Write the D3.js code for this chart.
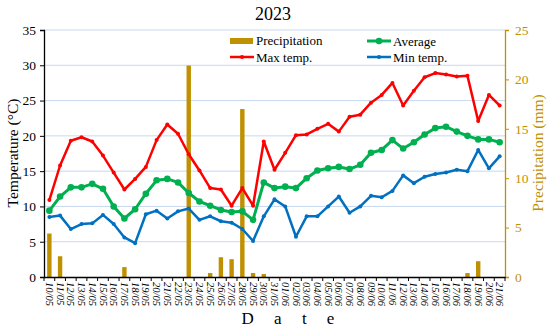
<html>
<head>
    <script src="https://d3js.org/d3.v7.min.js"></script>
    <style>
        body { margin: 0; background: #fff; }
        text { font-family: "Liberation Serif", "Times New Roman", serif; }
    </style>
</head>
<body>
    <svg id="chart" width="550" height="330"></svg>
    <script>
        const dates = ["10/05","11/05","12/05","13/05","14/05","15/05","16/05","17/05","18/05","19/05","20/05",
            "21/05","22/05","23/05","24/05","25/05","26/05","27/05","28/05","29/05","30/05","31/05",
            "01/06","02/06","03/06","04/06","05/06","06/06","07/06","08/06","09/06","10/06","11/06",
            "12/06","13/06","14/06","15/06","16/06","17/06","18/06","19/06","20/06","21/06"];
        const maxTemp = [10.9,15.8,19.3,19.8,19.2,17.2,14.8,12.4,13.9,15.6,19.4,
            21.6,20.3,17.4,15.1,12.6,12.4,10.1,12.6,10.1,19.2,15.2,
            17.6,20.1,20.2,21.0,21.7,20.6,22.7,23.0,24.7,25.8,27.5,
            24.3,26.4,28.3,28.9,28.7,28.4,28.5,22.1,25.8,24.3];
        const avgTemp = [9.4,11.4,12.7,12.7,13.2,12.5,10.0,8.3,9.6,11.8,13.7,
            13.9,13.4,11.9,10.7,10.1,9.5,9.2,9.3,8.1,13.4,12.6,
            12.8,12.6,14.0,15.1,15.4,15.6,15.3,15.9,17.6,18.0,19.4,
            18.2,19.1,20.2,21.1,21.3,20.6,20.0,19.5,19.5,19.1];
        const minTemp = [8.5,8.7,6.8,7.5,7.6,8.8,7.5,5.6,4.8,8.9,9.4,
            8.3,9.3,9.7,8.1,8.6,7.9,7.7,6.8,5.1,8.6,11.0,
            10.0,5.7,8.6,8.6,10.0,11.4,9.1,10.0,11.5,11.3,12.2,
            14.4,13.3,14.2,14.6,14.8,15.2,15.0,18.0,15.4,17.1];
        const precip = [4.4,2.1,0,0,0,0,0,1.0,0,0,0,
            0,0,21.4,0,0.4,2.0,1.8,17.0,0.4,0.3,0,
            0,0,0,0,0,0,0,0,0,0,0,
            0,0,0,0,0,0,0.4,1.6,0,0];
        const tempTicks = [0,5,10,15,20,25,30,35];
        const precipTicks = [0,5,10,15,20,25];

        const gold = "#BF9000";
        const serif = '"Liberation Serif", "Times New Roman", serif';
        const svg = d3.select("#chart");
        const plotL = 44, plotR = 505, plotT = 30, plotB = 277;

        const x = d3.scaleBand().domain(dates).range([plotL, plotR]).padding(0);
        const y = d3.scaleLinear().domain([0, 35]).range([plotB, plotT]);
        const y2 = d3.scaleLinear().domain([0, 25]).range([plotB, plotT]);
        const cx = d => x(d) + x.bandwidth() / 2;

        // grid
        svg.append("g").selectAll("line")
            .data(tempTicks.filter(t => t > 0))
            .join("line")
            .attr("x1", plotL).attr("x2", plotR)
            .attr("y1", d => y(d)).attr("y2", d => y(d))
            .attr("stroke", "#C8D8F0").attr("stroke-width", 1);

        // bars
        svg.append("g").selectAll("rect")
            .data(precip.map((v, i) => ({ d: dates[i], v })).filter(e => e.v > 0))
            .join("rect")
            .attr("x", e => cx(e.d) - 2.2)
            .attr("width", 4.4)
            .attr("y", e => y2(e.v))
            .attr("height", e => plotB - y2(e.v))
            .attr("fill", gold);

        // axes
        const leftAxis = svg.append("g")
            .attr("transform", `translate(${plotL},0)`)
            .call(d3.axisLeft(y).tickValues(tempTicks).tickSize(4).tickPadding(4));
        leftAxis.select(".domain").attr("stroke", "#000").attr("stroke-width", 1.3);
        leftAxis.selectAll("text").style("font-size", "13.5px").attr("fill", "#000")
            .style("font-family", serif);

        const rightAxis = svg.append("g")
            .attr("transform", `translate(${plotR},0)`)
            .call(d3.axisRight(y2).tickValues(precipTicks).tickSize(4).tickPadding(6));
        rightAxis.select(".domain").attr("stroke", gold).attr("stroke-width", 1.3);
        rightAxis.selectAll("line").attr("stroke", gold);
        rightAxis.selectAll("text").style("font-size", "13.5px").attr("fill", gold)
            .style("font-family", serif);

        const xAxis = svg.append("g")
            .attr("transform", `translate(0,${plotB})`)
            .call(d3.axisBottom(x).tickSize(0).tickPadding(6));
        xAxis.select(".domain").attr("stroke", "#000").attr("stroke-width", 1.3);
        xAxis.selectAll("text")
            .style("font-size", "10.5px")
            .style("font-style", "italic")
            .style("font-family", serif)
            .attr("fill", "#000")
            .attr("text-anchor", "start")
            .attr("transform", "rotate(90)")
            .attr("x", 5).attr("y", 0).attr("dy", "0.32em");
        svg.append("g").selectAll("line")
            .data(dates.concat(["end"]))
            .join("line")
            .attr("x1", (d, i) => plotL + i * x.bandwidth())
            .attr("x2", (d, i) => plotL + i * x.bandwidth())
            .attr("y1", plotB).attr("y2", plotB + 4)
            .attr("stroke", "#000");

        // lines
        const series = [
            { vals: maxTemp, color: "#FF0000", w: 2.5, r: 2 },
            { vals: minTemp, color: "#0070C0", w: 2.5, r: 2 },
            { vals: avgTemp, color: "#00B050", w: 3, r: 3.3 }
        ];
        series.forEach(s => {
            const line = d3.line().x((v, i) => cx(dates[i])).y(v => y(v));
            svg.append("path").datum(s.vals)
                .attr("d", line)
                .attr("fill", "none")
                .attr("stroke", s.color)
                .attr("stroke-width", s.w)
                .attr("stroke-linejoin", "round");
            svg.append("g").selectAll("circle")
                .data(s.vals)
                .join("circle")
                .attr("cx", (v, i) => cx(dates[i]))
                .attr("cy", v => y(v))
                .attr("r", s.r)
                .attr("fill", s.color);
        });

        // title + axis labels
        svg.append("text").attr("x", 273).attr("y", 20)
            .attr("text-anchor", "middle").attr("font-size", 18).text("2023");
        svg.append("text")
            .attr("transform", "translate(18,153) rotate(-90)")
            .attr("text-anchor", "middle").attr("font-size", 15.5)
            .text("Temperature (°C)");
        svg.append("text")
            .attr("transform", "translate(543,153) rotate(-90)")
            .attr("text-anchor", "middle").attr("font-size", 15.5).attr("fill", gold)
            .text("Precipitation (mm)");
        svg.append("text").attr("x", 292).attr("y", 324)
            .attr("text-anchor", "middle").attr("font-size", 17)
            .attr("letter-spacing", 8)
            .text("D a t e");

        // legend
        const legend = svg.append("g");
        legend.append("rect").attr("x", 230).attr("y", 38).attr("width", 23).attr("height", 6).attr("fill", gold);
        legend.append("text").attr("x", 256).attr("y", 45).attr("font-size", 13).text("Precipitation");
        const legLines = [
            { label: "Max temp.", color: "#FF0000", x0: 230, yy: 57, r: 2, w: 2.5 },
            { label: "Average", color: "#00B050", x0: 367, yy: 41, r: 3.3, w: 3 },
            { label: "Min temp.", color: "#0070C0", x0: 367, yy: 57, r: 2, w: 2.5 }
        ];
        legLines.forEach(l => {
            legend.append("line").attr("x1", l.x0).attr("x2", l.x0 + 24)
                .attr("y1", l.yy).attr("y2", l.yy)
                .attr("stroke", l.color).attr("stroke-width", l.w);
            legend.append("circle").attr("cx", l.x0 + 12).attr("cy", l.yy).attr("r", l.r).attr("fill", l.color);
            legend.append("text").attr("x", l.x0 + 26).attr("y", l.yy + 4.5)
                .attr("font-size", 13).text(l.label);
        });
    </script>
</body>
</html>
